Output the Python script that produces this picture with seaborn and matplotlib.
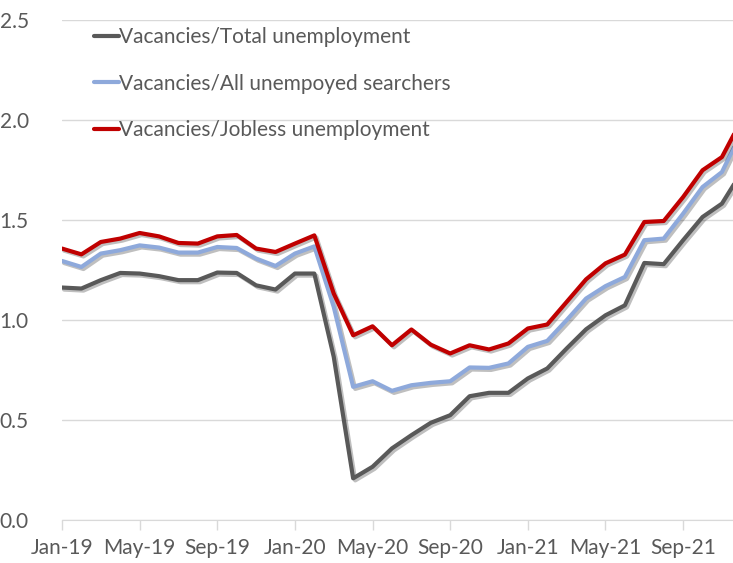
import matplotlib
matplotlib.use("Agg")
import matplotlib.pyplot as plt
import matplotlib.patheffects as pe
import pandas as pd
import seaborn as sns
import numpy as np

#-------------------------------
months = pd.date_range("2019-01-01", "2021-12-01", freq="MS").strftime("%b-%y").tolist()

total_unemp = [1.161, 1.156, 1.198, 1.234, 1.231, 1.218, 1.198, 1.198, 1.236, 1.234, 1.172, 1.151,
               1.231, 1.231, 0.814, 0.206, 0.264, 0.356, 0.422, 0.484, 0.522, 0.617, 0.634, 0.634,
               0.706, 0.756, 0.856, 0.952, 1.022, 1.072, 1.284, 1.278, 1.398, 1.514, 1.581, 1.737]
all_searchers = [1.294, 1.264, 1.331, 1.348, 1.372, 1.361, 1.336, 1.336, 1.364, 1.359, 1.306, 1.269,
                 1.331, 1.367, 1.064, 0.664, 0.692, 0.644, 0.672, 0.684, 0.692, 0.761, 0.759, 0.781,
                 0.864, 0.894, 0.998, 1.106, 1.168, 1.214, 1.398, 1.406, 1.531, 1.664, 1.739, 1.938]
jobless_unemp = [1.356, 1.327, 1.389, 1.406, 1.434, 1.417, 1.384, 1.381, 1.417, 1.424, 1.356, 1.339,
                 1.381, 1.422, 1.131, 0.922, 0.967, 0.872, 0.951, 0.875, 0.831, 0.872, 0.851, 0.881,
                 0.956, 0.976, 1.089, 1.202, 1.282, 1.326, 1.489, 1.494, 1.614, 1.748, 1.814, 1.998]

series_names = ["Vacancies/Total unemployment",
                "Vacancies/All unempoyed searchers",
                "Vacancies/Jobless unemployment"]
colors = ["#595959", "#8EA9DB", "#C00000"]
tick_labels = ["Jan-19", "May-19", "Sep-19", "Jan-20", "May-20", "Sep-20", "Jan-21", "May-21", "Sep-21"]
#-------------------------------

df = pd.DataFrame({"month": np.arange(len(months)),
                   series_names[0]: total_unemp,
                   series_names[1]: all_searchers,
                   series_names[2]: jobless_unemp})
long = df.melt(id_vars="month", var_name="series", value_name="ratio")

sns.set_style("white")
plt.rcParams["font.family"] = ["Lato", "DejaVu Sans"]

fig = plt.figure(figsize=(7.33, 5.63), dpi=100)
ax = fig.add_axes([62 / 733, 1 - 519.5 / 563, 1 - 62 / 733, (519.5 - 20) / 563])

sns.lineplot(data=long, x="month", y="ratio", hue="series", hue_order=series_names,
             palette=colors, linewidth=3, ax=ax, legend=False,
             path_effects=[pe.SimpleLineShadow(offset=(1.5, -1.5), alpha=0.25), pe.Normal()])

ax.set_xlim(0, (733 - 62) / 19.41)
ax.set_ylim(0, 2.5)
ax.set_yticks(np.arange(0, 2.51, 0.5))
ax.set_yticklabels(["{:.1f}".format(v) for v in np.arange(0, 2.51, 0.5)])
ax.set_xticks([months.index(t) for t in tick_labels])
ax.set_xticklabels(tick_labels)
ax.set_xlabel("")
ax.set_ylabel("")
ax.grid(axis="y", color="#D9D9D9", linewidth=1)
ax.set_axisbelow(True)
for s in ["left", "right", "top"]:
    ax.spines[s].set_visible(False)
ax.spines["bottom"].set_color("#D9D9D9")
ax.tick_params(axis="x", color="#D9D9D9", labelcolor="#595959", labelsize=15,
               direction="out", length=7, width=1, bottom=True, pad=6)
ax.tick_params(axis="y", labelcolor="#595959", labelsize=15, length=0, pad=24)

handles = [plt.Line2D([], [], color=c, linewidth=3) for c in colors]
ax.legend(handles, series_names, loc="upper left", bbox_to_anchor=(0.035, 1.002), frameon=False,
          fontsize=15, labelcolor="#595959", handlelength=1.2, handletextpad=0.0,
          labelspacing=1.26, borderaxespad=0)

fig.savefig("out.png", dpi=100)
